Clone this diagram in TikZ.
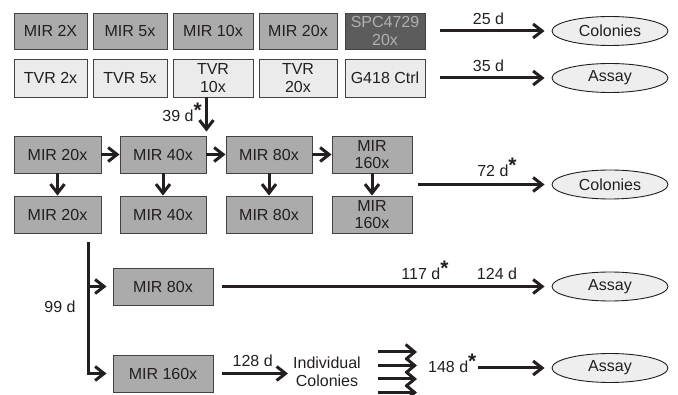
\documentclass[tikz,border=0pt]{standalone}
\usepackage{fontspec}
\setmainfont{Liberation Sans}
\usetikzlibrary{arrows.meta, calc, shapes.geometric}
\definecolor{mirfill}{HTML}{ABABAB}
\definecolor{tvrfill}{HTML}{EBEBEB}
\definecolor{spcfill}{HTML}{5C5C5C}
\definecolor{spctext}{HTML}{B0B0B0}
\definecolor{ovalfill}{HTML}{EEEEEE}
\definecolor{ink}{HTML}{231F20}
\newcommand{\sigmark}{\raisebox{0.3em}{\fontsize{21}{21}\selectfont\bfseries *}}
\tikzset{
  % scatola di una coltura
  cult/.style={draw=ink!85, line width=0.9pt, minimum height=37pt, inner sep=0pt,
    align=center, text=ink, font=\fontsize{16}{17.5}\selectfont},
  mir/.style={cult, fill=mirfill},
  tvr/.style={cult, fill=tvrfill},
  spc/.style={cult, fill=spcfill, text=spctext},
  % esito finale
  oval/.style={ellipse, draw=ink, line width=0.9pt, fill=ovalfill, minimum width=116pt,
    minimum height=29pt, inner sep=0pt, text=ink, font=\fontsize{16}{17.5}\selectfont},
  % frecce
  flow/.style={-{Straight Barb[length=9pt,width=14pt]}, line width=3pt, draw=ink},
  fan/.style={-{Straight Barb[length=9pt,width=15pt]}, line width=3pt, draw=ink},
  % etichette dei giorni
  lbl/.style={inner sep=1pt, text=ink, align=center, font=\fontsize{16}{17.5}\selectfont},
}

\begin{document}
\begin{tikzpicture}[x=1pt, y=-1pt]
  \useasboundingbox (0,0) rectangle (678,395);
  % prima riga
  \node[mir, minimum width=73pt, minimum height=36pt] (mir2) at (50.5,31) {MIR 2X};
  \node[mir, minimum width=74pt, minimum height=36pt] (mir5) at (130,31) {MIR 5x};
  \node[mir, minimum width=80pt, minimum height=36pt] (mir10) at (213,31) {MIR 10x};
  \node[mir, minimum width=78pt, minimum height=36pt] (mir20) at (298,31) {MIR 20x};
  \node[spc, minimum width=80pt, minimum height=36pt] (spc) at (385,31) {SPC4729\\20x};
  % seconda riga
  \node[tvr, minimum width=73pt, minimum height=38pt] (tvr2) at (50.5,78) {TVR 2x};
  \node[tvr, minimum width=74pt, minimum height=38pt] (tvr5) at (130,78) {TVR 5x};
  \node[tvr, minimum width=80pt, minimum height=38pt] (tvr10) at (213,78) {TVR\\10x};
  \node[tvr, minimum width=78pt, minimum height=38pt] (tvr20) at (298,78) {TVR\\20x};
  \node[tvr, minimum width=80pt, minimum height=38pt] (g418) at (385,78) {G418 Ctrl};
  \node[oval] (col1) at (610,31) {Colonies};
  \node[oval] (assay1) at (610,78) {Assay};
  \draw[flow, shorten <=15pt, shorten >=7pt] (spc.east) -- (col1.west)
    node[lbl, midway, anchor=base, yshift=6pt] (l25) {25 d};
  \draw[flow, shorten <=15pt, shorten >=7pt] (g418.east) -- (assay1.west)
    node[lbl, midway, anchor=base, yshift=6pt] (l35) {35 d};
  % passaggi successivi
  \node[mir, minimum width=87pt] (a20) at (57.5,154.5) {MIR 20x};
  \node[mir, minimum width=86pt] (a40) at (163,154.5) {MIR 40x};
  \node[mir, minimum width=86pt] (a80) at (269,154.5) {MIR 80x};
  \node[mir, minimum width=80pt] (a160) at (372,154.5) {MIR\\160x};
  \node[mir, minimum width=87pt] (b20) at (57.5,214.5) {MIR 20x};
  \node[mir, minimum width=86pt] (b40) at (163,214.5) {MIR 40x};
  \node[mir, minimum width=86pt] (b80) at (269,214.5) {MIR 80x};
  \node[mir, minimum width=80pt] (b160) at (372,214.5) {MIR\\160x};
  \draw[flow, shorten >=4pt] (tvr10.south -| a40.north east) -- (a40.north east);
  \node[lbl, anchor=base east] (l39) at (203,122) {39 d\sigmark};
  \foreach \p/\q in {a20/a40, a40/a80, a80/a160} {
    \draw[flow] (\p.east) -- (\q.west);
  }
  \foreach \n in {20, 40, 80, 160} {
    \draw[flow] (a\n.south) -- (b\n.south |- b\n.north);
  }
  \node[oval] (col2) at (610,184.5) {Colonies};
  \draw[flow, shorten <=6pt, shorten >=7pt] ($(a160.east)!0.5!(b160.east)$) -- (col2.west);
  \node[lbl, anchor=base] (l72) at (497,177) {72 d\sigmark};
  % ramo finale
  \node[mir, minimum width=100pt] (c80) at (163,286.5) {MIR 80x};
  \node[mir, minimum width=100pt] (c160) at (163,373.5) {MIR 160x};
  \coordinate (split) at (88,242);
  \draw[flow, shorten >=6pt] (split) |- (c160.west);
  \draw[flow, shorten >=6pt] (split |- c80.west) -- (c80.west);
  \node[lbl, anchor=base] (l99) at (60,313) {99 d};
  \node[oval] (assay2) at (610,286.5) {Assay};
  \draw[flow, shorten <=9pt, shorten >=7pt] (c80.east) -- (assay2.west);
  \node[lbl, anchor=base] (l117) at (425,280) {117 d\sigmark};
  \node[lbl, anchor=base] (l124) at (497,280) {124 d};
  \node[lbl] (indiv) at (327,372) {Individual\\Colonies};
  \draw[flow, shorten <=9pt, shorten >=4pt] (c160.east) -- (c160.east -| indiv.west)
    node[lbl, midway, anchor=base, yshift=7pt] (l128) {128 d};
  \foreach \y [count=\i] in {352, 365.5, 379, 392.5} {
    \coordinate (fs\i) at (378,\y);
    \coordinate (fe\i) at (417,\y);
    \draw[fan] (fs\i) -- (fe\i);
  }
  \node[lbl, anchor=base west] (l148) at (427,373) {148 d\sigmark};
  \node[oval] (assay3) at (610,368) {Assay};
  \draw[flow, shorten >=7pt] (l148.east |- assay3.west) -- (assay3.west);
\end{tikzpicture}
\end{document}
